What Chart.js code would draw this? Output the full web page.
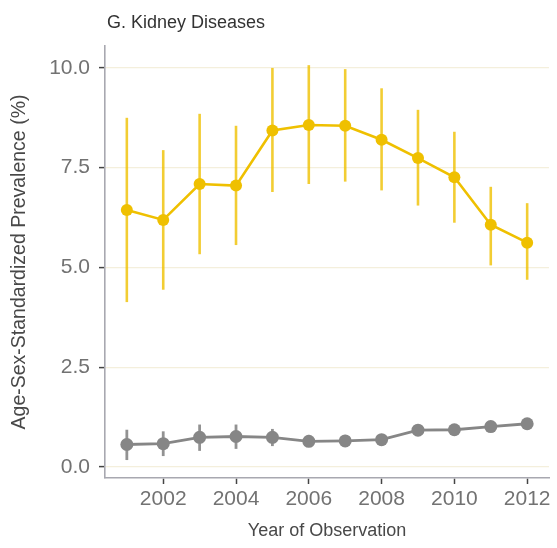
<!DOCTYPE html>
<html>
<head>
<meta charset="utf-8">
<script src="https://cdn.jsdelivr.net/npm/chart.js@4.4.1/dist/chart.umd.min.js"></script>
<style>
  html, body { margin: 0; padding: 0; background: #ffffff; }
  #wrap { width: 557px; height: 548px; }
</style>
</head>
<body>
<div id="wrap"><canvas id="chart" width="557" height="548"></canvas></div>
<script>
// Years of observation
const years = [2001, 2002, 2003, 2004, 2005, 2006, 2007, 2008, 2009, 2010, 2011, 2012];

// Kidney disease prevalence, group 1 (yellow): estimate, lower and upper CI
const prevA = [6.44, 6.19, 7.09, 7.05, 8.43, 8.57, 8.55, 8.20, 7.74, 7.26, 6.07, 5.62];
const lowA  = [4.13, 4.44, 5.33, 5.56, 6.89, 7.09, 7.15, 6.93, 6.55, 6.12, 5.05, 4.69];
const highA = [8.75, 7.94, 8.85, 8.55, 10.00, 10.07, 9.97, 9.49, 8.95, 8.40, 7.02, 6.61];

// Group 2 (grey): estimate, lower and upper CI
const prevB = [0.56, 0.58, 0.74, 0.76, 0.74, 0.64, 0.65, 0.68, 0.92, 0.93, 1.01, 1.08];
const lowB  = [0.17, 0.27, 0.40, 0.45, 0.52, 0.50, 0.52, 0.55, 0.78, 0.80, 0.88, 0.95];
const highB = [0.93, 0.89, 1.06, 1.06, 0.95, 0.80, 0.80, 0.82, 1.05, 1.07, 1.13, 1.21];

// Axis tick labels
const xTicks = [2002, 2004, 2006, 2008, 2010, 2012];
const yTicks = [0.0, 2.5, 5.0, 7.5, 10.0];

const titleText = 'G. Kidney Diseases';
const FONT = '"Liberation Sans", Arial, Helvetica, sans-serif';
const YELLOW = '#EFC000';
const GREY = '#868686';

const toPoints = (vals) => years.map((yr, i) => ({ x: yr, y: vals[i] }));

// Vertical confidence-interval bars drawn through the chart scales
const errorBars = {
  id: 'errorBars',
  beforeDatasetsDraw(chart) {
    const { ctx, scales: { x, y } } = chart;
    chart.data.datasets.forEach((ds) => {
      ctx.save();
      ctx.strokeStyle = ds.barColor;
      ctx.lineWidth = ds.barWidth;
      ctx.lineCap = 'butt';
      ds.low.forEach((lo, i) => {
        const px = x.getPixelForValue(years[i]);
        ctx.beginPath();
        ctx.moveTo(px, y.getPixelForValue(lo));
        ctx.lineTo(px, y.getPixelForValue(ds.high[i]));
        ctx.stroke();
      });
      ctx.restore();
    });
  }
};

// Panel heading, left-aligned with the plotting area
const panelTitle = {
  id: 'panelTitle',
  afterDraw(chart) {
    const { ctx, chartArea } = chart;
    ctx.save();
    ctx.font = '18px ' + FONT;
    ctx.fillStyle = '#333333';
    ctx.textAlign = 'left';
    ctx.textBaseline = 'alphabetic';
    ctx.fillText(titleText, chartArea.left + 2, 28);
    ctx.restore();
  }
};

new Chart(document.getElementById('chart'), {
  type: 'line',
  data: {
    datasets: [
      {
        data: toPoints(prevA),
        low: lowA, high: highA,
        borderColor: YELLOW, backgroundColor: YELLOW,
        barColor: 'rgba(239,192,0,0.8)', barWidth: 2.6,
        borderWidth: 2.6, pointRadius: 6, pointHoverRadius: 6,
        pointBorderWidth: 0, tension: 0
      },
      {
        data: toPoints(prevB),
        low: lowB, high: highB,
        borderColor: GREY, backgroundColor: GREY,
        barColor: 'rgba(134,134,134,0.9)', barWidth: 2.8,
        borderWidth: 2.8, pointRadius: 6.5, pointHoverRadius: 6.5,
        pointBorderWidth: 0, tension: 0
      }
    ]
  },
  options: {
    responsive: false,
    animation: false,
    events: [],
    layout: { padding: { top: 46, right: 8, left: 0, bottom: 0 } },
    plugins: {
      legend: { display: false },
      tooltip: { enabled: false },
      title: { display: false }
    },
    scales: {
      x: {
        type: 'linear',
        min: 2000.4,
        max: 2012.6,
        afterFit(scale) { scale.height = 70; },
        afterBuildTicks(scale) { scale.ticks = xTicks.map(v => ({ value: v })); },
        grid: {
          drawOnChartArea: false,
          drawTicks: true,
          tickLength: 6,
          tickColor: '#444444',
          tickWidth: 1.5
        },
        border: { display: true, color: '#A8A8B0', width: 1.6 },
        ticks: {
          color: '#727272',
          font: { family: FONT, size: 21 },
          padding: 3,
          maxRotation: 0,
          autoSkip: false,
          callback: (v) => String(v)
        },
        title: {
          display: true,
          text: 'Year of Observation',
          color: '#484848',
          font: { family: FONT, size: 18 },
          padding: { top: 0, bottom: 6 }
        }
      },
      y: {
        type: 'linear',
        min: -0.28,
        max: 10.55,
        afterFit(scale) { scale.width = 105; },
        afterBuildTicks(scale) { scale.ticks = yTicks.map(v => ({ value: v })); },
        grid: {
          color: '#F4EFDC',
          lineWidth: 1.2,
          drawTicks: true,
          tickLength: 6,
          tickColor: '#444444',
          tickWidth: 1.5
        },
        border: { display: true, color: '#A8A8B0', width: 1.6 },
        ticks: {
          color: '#727272',
          font: { family: FONT, size: 21 },
          padding: 9,
          callback: (v) => Number(v).toFixed(1)
        },
        title: {
          display: true,
          text: 'Age-Sex-Standardized Prevalence (%)',
          color: '#484848',
          font: { family: FONT, size: 19.5 },
          padding: { top: 8, bottom: 0 }
        }
      }
    }
  },
  plugins: [errorBars, panelTitle]
});
</script>
</body>
</html>
